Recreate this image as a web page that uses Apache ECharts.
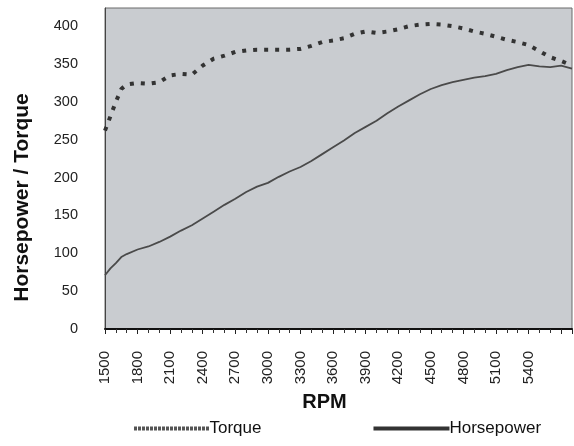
<!DOCTYPE html>
<html><head><meta charset="utf-8">
<script src="https://cdn.jsdelivr.net/npm/echarts@6/dist/echarts.min.js"></script>
<style>html,body{margin:0;padding:0;background:#fff}#c{width:574px;height:446px}</style>
</head><body><div id="c"></div>
<script>
const rpm = [1500,1550,1600,1650,1700,1800,1900,2000,2100,2200,2300,2400,2500,2600,2700,2800,2900,3000,3100,3200,3300,3400,3500,3600,3700,3800,3900,4000,4100,4200,4300,4400,4500,4600,4700,4800,4900,5000,5100,5200,5300,5400,5500,5600,5700,5800];
const torque = [262,281,300,317,323,325,324,326,335,337,336,348,357,361,366,368,369,369,369,369,370,374,379,381,384,390,393,391,393,396,400,402,403,402,400,397,393,390,386,382,379,375,367,359,354,348];
const horsepower = [71,80,87,95,99,105,109,115,122,130,137,146,155,164,172,181,188,193,201,208,214,222,231,240,249,259,267,275,285,294,302,310,317,322,326,329,332,334,337,342,346,349,347,346,348,344];
const xTickLabels = [1500,1800,2100,2400,2700,3000,3300,3600,3900,4200,4500,4800,5100,5400];

let dots = '';
for (let i = 0; i < 19; i++) { dots += 'M' + (i * 4) + ',0 h3 v4 h-3 Z '; }

const chart = echarts.init(document.getElementById('c'));
const font = 'Liberation Sans, Arial, sans-serif';
chart.setOption({
  animation: false,
  grid: {left: 105, right: 2, top: 8, bottom: 117, show: true, backgroundColor: '#c9ccd0', borderColor: '#6a6a6a', borderWidth: 1},
  xAxis: {
    type: 'value', min: 1500, max: 5800, interval: 300,
    name: 'RPM', nameLocation: 'middle', nameGap: 63,
    nameTextStyle: {fontFamily: font, fontWeight: 'bold', fontSize: 20, color: '#111', padding: [0, 28, 0, 0]},
    axisLine: {show: true, lineStyle: {color: '#111', width: 2}},
    axisTick: {show: true, length: 5, lineStyle: {color: '#222'}},
    minorTick: {show: true, splitNumber: 3, length: 4, lineStyle: {color: '#333'}},
    splitLine: {show: false},
    axisLabel: {rotate: 90, margin: 22, fontFamily: font, fontSize: 15, color: '#222',
      formatter: v => xTickLabels.includes(v) ? String(v) : ''}
  },
  yAxis: {
    type: 'value', min: 0, max: 424, interval: 50,
    name: 'Horsepower / Torque', nameLocation: 'middle', nameGap: 72,
    nameTextStyle: {fontFamily: font, fontWeight: 'bold', fontSize: 21, color: '#111', padding: [0, 58, 0, 0]},
    axisLine: {show: true, lineStyle: {color: '#444', width: 1}},
    axisTick: {show: false},
    splitLine: {show: false},
    axisLabel: {margin: 27, fontFamily: font, fontSize: 14.5, color: '#222', showMaxLabel: false,
      formatter: v => (v % 50 === 0 ? String(v) : '')}
  },
  legend: {
    left: 129, top: 415, itemGap: 112, itemWidth: 76, itemHeight: 4,
    textStyle: {fontFamily: font, fontSize: 17, color: '#111', padding: [0,0,0,-5]},
    data: [
      {name: 'Torque', icon: 'path://' + dots, itemStyle: {color: '#555'}},
      {name: 'Horsepower', icon: 'rect', itemStyle: {color: '#333'}}
    ]
  },
  series: [
    {name: 'Torque', type: 'line', showSymbol: false, symbol: 'none',
     data: rpm.map((r, i) => [r, torque[i]]),
     lineStyle: {color: '#333', width: 4, type: [4, 7], cap: 'butt'}, itemStyle: {color: '#333'}},
    {name: 'Horsepower', type: 'line', showSymbol: false, symbol: 'none',
     data: rpm.map((r, i) => [r, horsepower[i]]),
     lineStyle: {color: '#4a4a4a', width: 1.8}, itemStyle: {color: '#333'}}
  ]
});
</script></body></html>
